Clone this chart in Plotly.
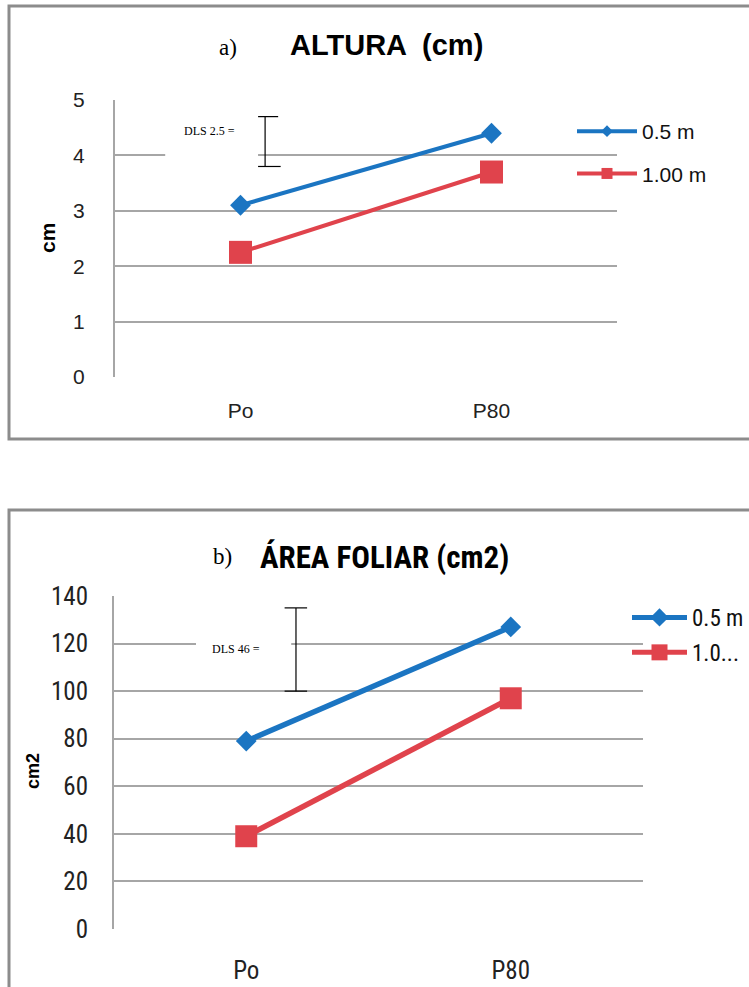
import plotly.graph_objects as go

# ---------------- data ----------------
categories = ["Po", "P80"]
altura_05 = [3.1, 4.4]
altura_100 = [2.25, 3.7]
area_05 = [79, 127]
area_100 = [39, 97]
series_names_a = ["0.5 m", "1.00 m"]
series_names_b = ["0.5 m", "1.0..."]
altura_ticks = [0, 1, 2, 3, 4, 5]
area_ticks = [0, 20, 40, 60, 80, 100, 120, 140]
dls_a_label = "DLS 2.5 ="
dls_b_label = "DLS 46 ="
dls_a_range = [3.8, 4.7]
dls_b_range = [100, 135]

# ---------------- styling ----------------
W, H = 749, 987
BLUE = "#1B75C2"
RED = "#E0434C"
GRID = "#A6A6A6"
BORDER = "#8C8C8C"
SANS = "Liberation Sans, Arial, sans-serif"
NARROW = "Liberation Sans Narrow, Roboto Condensed, Liberation Sans, sans-serif"
SERIF = "Liberation Serif, Times New Roman, serif"


def px(x):
    return x / W


def py(y):
    return 1 - y / H


fig = go.Figure()

# panel a traces
fig.add_trace(go.Scatter(x=categories, y=altura_05, mode="lines+markers", name=series_names_a[0],
                         line=dict(color=BLUE, width=4), marker=dict(symbol="diamond", size=16, color=BLUE),
                         xaxis="x", yaxis="y", showlegend=False))
fig.add_trace(go.Scatter(x=categories, y=altura_100, mode="lines+markers", name=series_names_a[1],
                         line=dict(color=RED, width=4), marker=dict(symbol="square", size=23, color=RED),
                         xaxis="x", yaxis="y", showlegend=False))
# legend-only entries for panel a
fig.add_trace(go.Scatter(x=[None], y=[None], mode="lines+markers", name=series_names_a[0],
                         line=dict(color=BLUE, width=4), marker=dict(symbol="diamond", size=9, color=BLUE),
                         xaxis="x", yaxis="y", legend="legend", legendgroup="a1"))
fig.add_trace(go.Scatter(x=[None], y=[None], mode="lines+markers", name=series_names_a[1],
                         line=dict(color=RED, width=4), marker=dict(symbol="square", size=11, color=RED),
                         xaxis="x", yaxis="y", legend="legend", legendgroup="a2"))

# panel b traces
fig.add_trace(go.Scatter(x=categories, y=area_05, mode="lines+markers", name=series_names_b[0],
                         line=dict(color=BLUE, width=5.5), marker=dict(symbol="diamond", size=16, color=BLUE),
                         xaxis="x2", yaxis="y2", showlegend=False))
fig.add_trace(go.Scatter(x=categories, y=area_100, mode="lines+markers", name=series_names_b[1],
                         line=dict(color=RED, width=5.5), marker=dict(symbol="square", size=22, color=RED),
                         xaxis="x2", yaxis="y2", showlegend=False))
fig.add_trace(go.Scatter(x=[None], y=[None], mode="lines+markers", name=series_names_b[0],
                         line=dict(color=BLUE, width=5), marker=dict(symbol="diamond", size=14, color=BLUE),
                         xaxis="x2", yaxis="y2", legend="legend2", legendgroup="b1"))
fig.add_trace(go.Scatter(x=[None], y=[None], mode="lines+markers", name=series_names_b[1],
                         line=dict(color=RED, width=5), marker=dict(symbol="square", size=16, color=RED),
                         xaxis="x2", yaxis="y2", legend="legend2", legendgroup="b2"))

xcommon = dict(type="category", range=[-0.5, 1.5], showgrid=False, zeroline=False, showline=False,
               ticks="", fixedrange=True, automargin=False)
ycommon = dict(showgrid=True, gridcolor=GRID, gridwidth=2, zeroline=False, showline=True,
               linecolor=GRID, linewidth=2, ticks="", fixedrange=True, automargin=False)

shapes = [
    # panel borders
    dict(type="rect", xref="paper", yref="paper", x0=px(9), x1=px(770), y0=py(439), y1=py(6),
         line=dict(color=BORDER, width=3), fillcolor="rgba(0,0,0,0)", layer="below"),
    dict(type="rect", xref="paper", yref="paper", x0=px(9), x1=px(770), y0=py(1010), y1=py(510),
         line=dict(color=BORDER, width=3), fillcolor="rgba(0,0,0,0)", layer="below"),
    # white text box masking gridline (panel a)
    dict(type="rect", xref="x", yref="y", x0=-0.3, x1=0.07, y0=3.9, y1=4.1,
         line=dict(width=0), fillcolor="white", layer="above"),
    # panel a DLS bar
    dict(type="line", xref="x", yref="y", x0=0.098, x1=0.098, y0=dls_a_range[0], y1=dls_a_range[1],
         line=dict(color="black", width=1.2)),
    dict(type="line", xref="x", yref="y", x0=0.07, x1=0.15, y0=dls_a_range[1], y1=dls_a_range[1],
         line=dict(color="black", width=1.2)),
    dict(type="line", xref="x", yref="y", x0=0.07, x1=0.16, y0=dls_a_range[0], y1=dls_a_range[0],
         line=dict(color="black", width=1.2)),
    # white text box masking gridline (panel b)
    dict(type="rect", xref="x2", yref="y2", x0=-0.19, x1=0.17, y0=118, y1=122,
         line=dict(width=0), fillcolor="white", layer="above"),
    # panel b DLS bar
    dict(type="line", xref="x2", yref="y2", x0=0.188, x1=0.188, y0=dls_b_range[0], y1=dls_b_range[1],
         line=dict(color="black", width=1.2)),
    dict(type="line", xref="x2", yref="y2", x0=0.145, x1=0.23, y0=dls_b_range[1], y1=dls_b_range[1],
         line=dict(color="black", width=1.2)),
    dict(type="line", xref="x2", yref="y2", x0=0.145, x1=0.23, y0=dls_b_range[0], y1=dls_b_range[0],
         line=dict(color="black", width=1.2)),
]


def ann(text, x, y, font, angle=0):
    return dict(text=text, x=px(x), y=py(y), xref="paper", yref="paper", showarrow=False,
                xanchor="center", yanchor="middle", textangle=angle, font=font)


annotations = [
    ann("a)", 228, 47, dict(family=SERIF, size=23, color="black")),
    ann("<b>ALTURA  (cm)</b>", 386, 45, dict(family=SANS, size=29, color="black")),
    ann("<b>cm</b>", 47, 238, dict(family=SANS, size=21, color="black"), -90),
    ann(dls_a_label, 209, 131, dict(family=SERIF, size=12, color="black")),
    ann("b)", 222, 556, dict(family=SERIF, size=23, color="black")),
    ann("<b>ÁREA FOLIAR (cm2)</b>", 384, 557, dict(family=NARROW, size=31, color="black")),
    ann("<b>cm2</b>", 33, 771, dict(family=SANS, size=18, color="black"), -90),
    ann(dls_b_label, 236, 649, dict(family=SERIF, size=12, color="black")),
]

fig.update_layout(
    template="none",
    width=W, height=H, margin=dict(l=0, r=0, t=0, b=0, autoexpand=False),
    paper_bgcolor="white", plot_bgcolor="rgba(0,0,0,0)",
    xaxis=dict(xcommon, domain=[px(115), px(617)], anchor="y", ticklabelstandoff=19,
               tickfont=dict(family=SANS, size=21, color="#222")),
    yaxis=dict(ycommon, domain=[py(377), py(100)], anchor="x", range=[0, 5], tickvals=altura_ticks,
               ticklabelstandoff=24, tickfont=dict(family=SANS, size=21, color="#222")),
    xaxis2=dict(xcommon, domain=[px(114), px(643)], anchor="y2", ticklabelstandoff=24,
                tickfont=dict(family=NARROW, size=25, color="#222")),
    yaxis2=dict(ycommon, domain=[py(929), py(596)], anchor="x2", range=[0, 140], tickvals=area_ticks,
                ticklabelstandoff=19, tickfont=dict(family=NARROW, size=25, color="#222")),
    legend=dict(x=px(572), y=py(111), xref="container", yref="container", xanchor="left", yanchor="top",
                bgcolor="rgba(0,0,0,0)", font=dict(family=SANS, size=21, color="#111"), itemwidth=60,
                tracegroupgap=12, traceorder="grouped", itemclick=False),
    legend2=dict(x=px(627), y=py(596), xref="container", yref="container", xanchor="left", yanchor="top",
                 bgcolor="rgba(0,0,0,0)", font=dict(family=NARROW, size=23, color="#111"), itemwidth=55,
                 tracegroupgap=2, traceorder="grouped", itemclick=False),
    shapes=shapes,
    annotations=annotations,
)

# remove the default 8px page margin so the figure fills the window exactly
fig.write_html("out.html", config={"displayModeBar": False},
               post_script="document.body.style.margin='0px';")
